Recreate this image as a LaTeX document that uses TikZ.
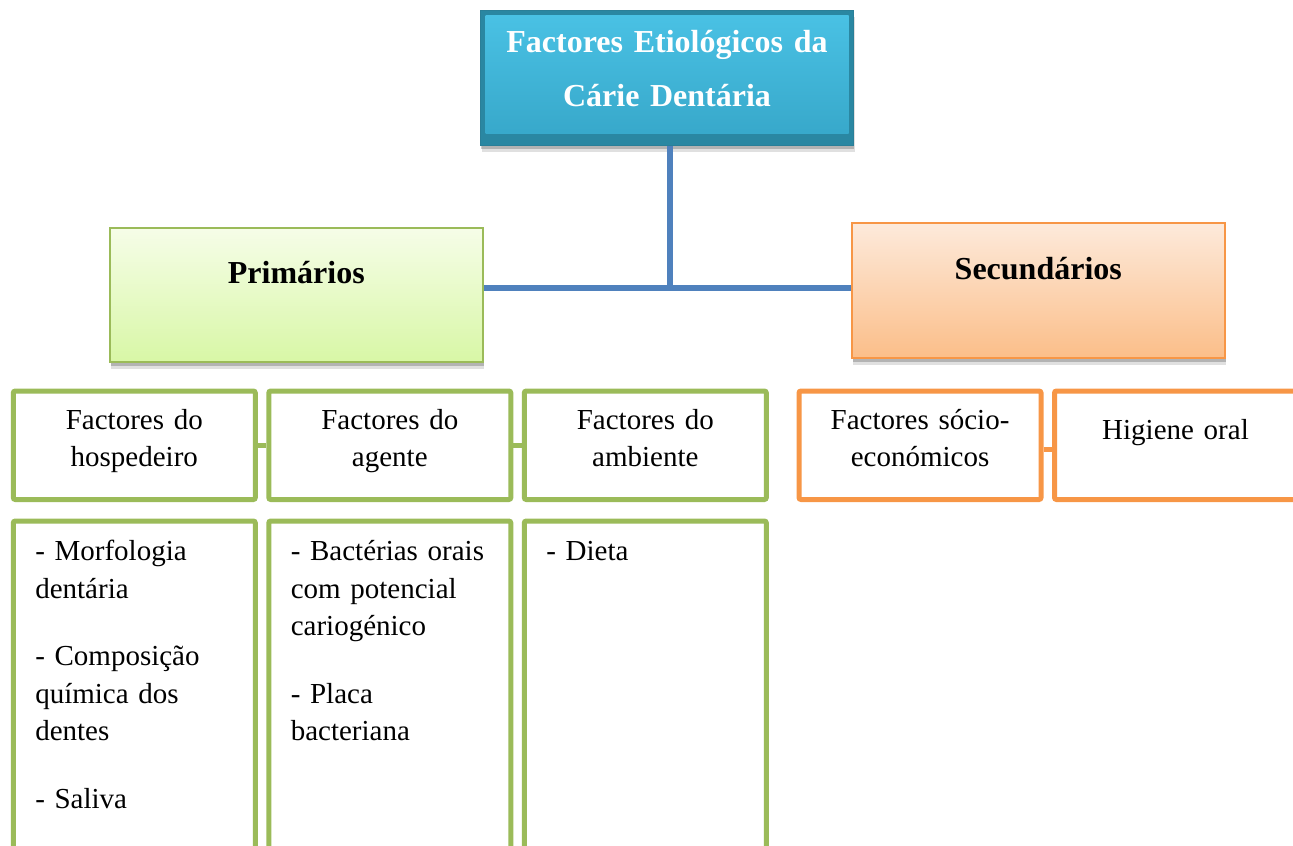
\documentclass[tikz,border=0pt]{standalone}
\usepackage{fontspec}
\setmainfont{Liberation Serif}
\usetikzlibrary{shadows}
\definecolor{rootTop}{HTML}{4AC2E5}
\definecolor{rootMid}{HTML}{36A6C8}
\definecolor{rootEdge}{HTML}{2A87A2}
\definecolor{rootLine}{HTML}{2A7F98}
\definecolor{primTop}{HTML}{F6FDE8}
\definecolor{primBot}{HTML}{D8F7A6}
\definecolor{secTop}{HTML}{FDEADB}
\definecolor{secBot}{HTML}{FBBE89}
\definecolor{olive}{HTML}{9BBB59}
\definecolor{tangerine}{HTML}{F79646}
\definecolor{steel}{HTML}{4F81BD}

\begin{document}
\begin{tikzpicture}[x=0.5pt, y=-0.5pt]
\tikzstyle{every node}=[anchor=north west, inner ysep=0pt];
\tikzstyle{shade box}=[drop shadow={shadow xshift=0.6pt, shadow yshift=-3.5pt, opacity=0.12, fill=black},
  drop shadow={shadow xshift=0.4pt, shadow yshift=-2pt, opacity=0.2, fill=black}];
\tikzstyle{headbox}=[shade box, draw=rootLine, line width=0.5pt, fill=rootEdge, text=white,
  font=\bfseries\fontsize{16}{27}\selectfont, align=center, text width=178.5pt, inner xsep=4pt,
  text height=21pt, text depth=46.5pt,
  path picture={\shade[top color=rootTop, bottom color=rootMid]
    ([shift={(2.5pt,-2.5pt)}]path picture bounding box.north west) rectangle
    ([shift={(-2.5pt,6pt)}]path picture bounding box.south east);}];
\tikzstyle{groupbox}=[shade box, line width=0.8pt, font=\bfseries\fontsize{16}{27}\selectfont,
  align=center, text width=178.5pt, inner xsep=4pt, text depth=39pt];
\tikzstyle{factor}=[draw, line width=2.5pt, rounded corners=1pt, fill=white,
  font=\fontsize{14.5}{18.75}\selectfont, align=center, text width=113pt, inner xsep=4pt,
  text height=19pt, text depth=35.25pt];
\tikzstyle{listbox}=[draw=olive, line width=2.5pt, rounded corners=1pt, fill=white,
  font=\fontsize{14.5}{18.75}\selectfont, align=left, text width=99pt, inner xsep=11pt,
  text height=19.75pt, text depth=160pt];
\tikzstyle{trunk}=[draw=steel, line width=2.7pt];

\useasboundingbox (0,0) rectangle (1293,845);

% top of the tree
\node[headbox] (root) at (480,10) {Factores Etiológicos da\\Cárie Dentária};
\node[groupbox, draw=olive, top color=primTop, bottom color=primBot, text height=28pt]
  (prim) at (109,227) {Primários};
\node[groupbox, draw=tangerine, top color=secTop, bottom color=secBot, text height=28.5pt]
  (sec) at (851,222) {Secundários};
\coordinate (hub) at (670,288);
\draw[trunk] (hub |- root.south) -- (hub);
\draw[trunk] (prim.east |- hub) -- (sec.west |- hub);

% primary factors
\node[factor, draw=olive] (hosp) at (10.8,388.5) {Factores do\\hospedeiro};
\node[factor, draw=olive] (agent) at (266.3,388.5) {Factores do\\agente};
\node[factor, draw=olive] (env) at (521.8,388.5) {Factores do\\ambiente};
\draw[olive, line width=2.5pt] (hosp) -- (agent);
\draw[olive, line width=2.5pt] (agent) -- (env);

\node[listbox] (hostlist) at (10.8,518.5) {- Morfologia\\dentária\\[15pt]- Composição\\química dos\\dentes\\[15pt]- Saliva};
\node[listbox] (agentlist) at (266.3,518.5) {- Bactérias orais\\com potencial\\cariogénico\\[15pt]- Placa\\bacteriana};
\node[listbox] (envlist) at (521.8,518.5) {- Dieta};

% secondary factors
\node[factor, draw=tangerine] (socio) at (796.5,388.5) {Factores sócio-\\económicos};
\node[factor, draw=tangerine, text height=24.25pt, text depth=30pt] (hyg) at (1052,388.5) {Higiene oral};
\draw[tangerine, line width=2.5pt] ([yshift=-2pt]socio.east) -- ([yshift=-2pt]hyg.west);
\end{tikzpicture}
\end{document}
